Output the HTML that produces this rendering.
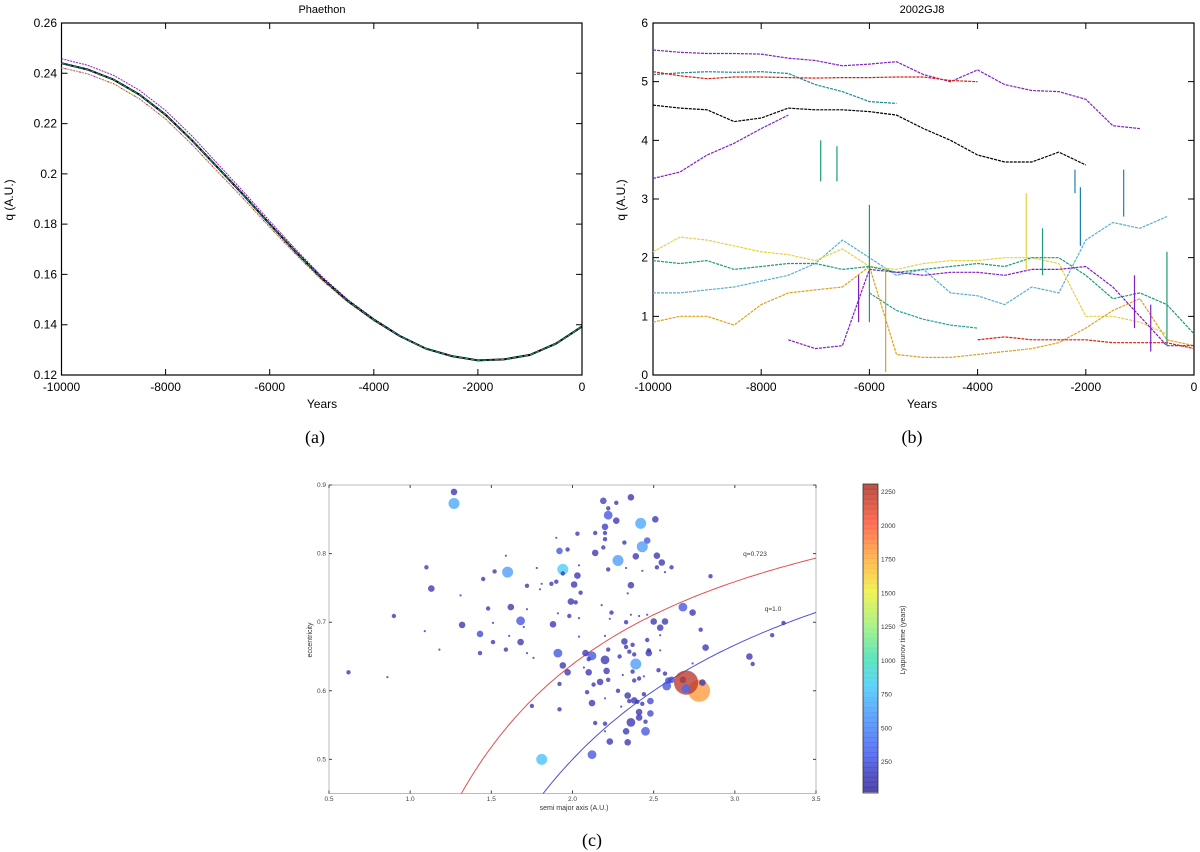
<!DOCTYPE html>
<html><head><meta charset="utf-8"><title>Phaethon and 2002GJ8 figure</title>
<style>
html,body{margin:0;padding:0;background:#fff;}
svg{display:block;font-family:"Liberation Sans",sans-serif;}
</style></head>
<body>
<svg id="fig" width="1200" height="852" viewBox="0 0 1200 852" xmlns="http://www.w3.org/2000/svg"></svg>
<script>
// ---------- Panel (a) data: Phaethon perihelion distance ----------
const yearsA = [-10000,-9500,-9000,-8500,-8000,-7500,-7000,-6500,-6000,-5500,-5000,-4500,-4000,-3500,-3000,-2500,-2000,-1500,-1000,-500,0];
const qCenter = [0.244,0.2415,0.2375,0.2315,0.2235,0.2135,0.2025,0.1915,0.180,0.169,0.1585,0.1495,0.142,0.1355,0.1305,0.1275,0.1258,0.1262,0.128,0.1325,0.1393];
const qUpper  = [0.2458,0.2432,0.2392,0.2332,0.2252,0.2152,0.2040,0.1928,0.1812,0.1700,0.1592,0.1500,0.1424,0.1357,null,null,null,null,null,null,null];
const qLower  = [0.2422,0.2398,0.2358,0.2298,0.2218,0.2118,0.2008,0.1900,0.1788,0.1680,0.1578,0.1490,0.1416,0.1353,null,null,null,null,null,null,null];
const ticksAx = [-10000,-8000,-6000,-4000,-2000,0];
const ticksAy = [0.12,0.14,0.16,0.18,0.2,0.22,0.24,0.26];
const tickLabelsAy = ["0.12","0.14","0.16","0.18","0.2","0.22","0.24","0.26"];

// ---------- Panel (b) data: 2002GJ8 clones ----------
const yearsB = [-10000,-9500,-9000,-8500,-8000,-7500,-7000,-6500,-6000,-5500,-5000,-4500,-4000,-3500,-3000,-2500,-2000,-1500,-1000,-500,0];
const qPurpleTop = [5.54,5.50,5.48,5.48,5.47,5.40,5.36,5.27,5.30,5.34,5.12,5.00,5.20,4.95,4.85,4.83,4.70,4.25,4.20,null,null];
const qRedTop    = [5.17,5.10,5.05,5.08,5.08,5.07,5.06,5.07,5.07,5.08,5.08,5.02,5.00,null,null,null,null,null,null,null,null];
const qTealTop   = [5.12,5.15,5.17,5.16,5.17,5.14,4.95,4.83,4.66,4.63,null,null,null,null,null,null,null,null,null,null,null];
const qBlack     = [4.60,4.55,4.52,4.32,4.38,4.55,4.52,4.52,4.49,4.43,4.20,4.00,3.75,3.63,3.63,3.80,3.58,null,null,null,null];
const qPurpleLow = [3.35,3.46,3.75,3.95,4.20,4.43,null,null,null,null,null,null,null,null,null,null,null,null,null,null,null];
const qGreen     = [1.95,1.90,1.95,1.80,1.85,1.90,1.90,1.80,1.85,1.75,1.80,1.85,1.90,1.85,2.00,2.00,1.70,1.30,1.40,1.20,0.70];
const qCyan      = [1.40,1.40,1.45,1.50,1.60,1.70,1.90,2.30,2.00,1.70,1.80,1.40,1.35,1.20,1.50,1.40,2.30,2.60,2.50,2.70,null];
const qTealLow   = [null,null,null,null,null,null,null,null,1.40,1.10,0.95,0.85,0.80,null,null,null,null,null,null,null,null];
const qYellow    = [2.10,2.35,2.30,2.20,2.10,2.05,1.95,2.15,1.85,1.80,1.90,1.95,1.95,2.00,2.00,1.90,1.00,1.00,0.90,0.70,null];
const qOrange    = [0.90,1.00,1.00,0.85,1.20,1.40,1.45,1.50,1.85,0.35,0.30,0.30,0.35,0.40,0.45,0.55,0.80,1.10,1.30,0.60,0.50];
const qPurpleMid = [null,null,null,null,null,0.60,0.45,0.50,1.80,1.75,1.70,1.75,1.75,1.70,1.80,1.80,1.85,1.50,1.00,0.50,0.50];
const qRedLow    = [null,null,null,null,null,null,null,null,null,null,null,null,0.60,0.65,0.60,0.60,0.60,0.55,0.55,0.55,0.45];
const spikeYears = [-6900,-6600,-6000,-5700,-3100,-2200,-1300,-2800,-1100,-800,-500,-6200,-2100];
const spikeLow   = [3.3,3.3,0.9,0.05,1.8,3.1,2.7,1.7,0.8,0.4,0.5,0.9,2.2];
const spikeHigh  = [4.0,3.9,2.9,1.8,3.1,3.5,3.5,2.5,1.7,1.2,2.1,1.7,3.2];
const spikeColor = ["#1a9a7a","#1a9a7a","#1a9a7a","#e0a020","#e8d040","#2080b0","#2080b0","#1a9a7a","#8020c0","#8020c0","#1a9a7a","#8020c0","#2080b0"];
const ticksBy = [0,1,2,3,4,5,6];

// ---------- Panel (c) data: a vs e scatter ----------
const semiMajor = [1.27,1.27,2.19,2.36,2.27,2.22,2.22,2.27,2.42,2.51,2.20,2.14,2.20,2.20,2.03,1.90,2.46,2.43,2.32,1.92,1.97,2.19,2.14,2.28,2.39,2.52,2.55,2.52,2.61,2.57,2.43,2.33,2.22,1.94,1.94,1.60,1.59,1.52,1.10,1.45,1.13,1.31,0.90,1.09,1.18,0.62,0.86,1.32,1.43,1.43,1.48,1.51,1.51,1.59,1.62,1.61,1.68,1.68,1.70,1.72,1.72,1.72,1.76,1.78,1.80,1.81,1.87,1.90,1.88,1.91,1.94,1.92,1.91,1.98,1.99,2.02,2.01,2.03,2.05,2.04,2.04,2.04,1.97,1.92,1.75,2.08,2.12,2.10,2.10,2.07,2.13,2.09,2.12,2.14,2.12,2.20,2.21,2.22,2.17,2.22,2.20,2.20,2.20,2.23,2.18,2.24,2.23,2.20,2.28,2.29,2.30,2.31,2.33,2.32,2.33,2.35,2.37,2.38,2.36,2.34,2.36,2.41,2.39,2.37,2.38,2.41,2.34,2.33,2.34,2.36,2.35,2.38,2.40,2.43,2.41,2.41,2.45,2.45,2.44,2.48,2.48,2.44,2.46,2.46,2.47,2.47,2.50,2.54,2.54,2.57,2.54,2.53,2.57,2.58,2.59,2.61,2.68,2.78,2.70,2.70,2.80,2.68,2.74,2.79,2.82,2.74,2.85,3.09,3.11,3.23,3.30,1.81];
const eccentricity = [0.890,0.873,0.877,0.882,0.874,0.866,0.856,0.848,0.844,0.850,0.839,0.830,0.830,0.821,0.829,0.823,0.819,0.810,0.816,0.804,0.806,0.809,0.801,0.790,0.796,0.797,0.787,0.780,0.780,0.773,0.775,0.779,0.777,0.777,0.771,0.773,0.797,0.774,0.780,0.763,0.749,0.739,0.709,0.687,0.660,0.627,0.620,0.696,0.683,0.655,0.720,0.699,0.671,0.660,0.722,0.680,0.702,0.671,0.693,0.753,0.719,0.655,0.648,0.779,0.748,0.756,0.756,0.759,0.697,0.655,0.637,0.610,0.713,0.709,0.730,0.729,0.755,0.768,0.743,0.783,0.706,0.679,0.627,0.573,0.578,0.655,0.651,0.646,0.627,0.634,0.609,0.598,0.582,0.553,0.507,0.645,0.629,0.660,0.613,0.616,0.589,0.552,0.541,0.526,0.725,0.714,0.705,0.680,0.600,0.650,0.577,0.623,0.700,0.672,0.664,0.657,0.667,0.653,0.754,0.742,0.711,0.709,0.639,0.628,0.615,0.618,0.593,0.541,0.525,0.554,0.585,0.586,0.584,0.581,0.561,0.569,0.541,0.555,0.595,0.567,0.585,0.621,0.711,0.674,0.659,0.655,0.701,0.692,0.681,0.701,0.659,0.630,0.625,0.607,0.615,0.616,0.616,0.600,0.612,0.603,0.612,0.722,0.714,0.689,0.663,0.640,0.767,0.650,0.639,0.681,0.699,0.500];
const lyapunov = [100,650,150,100,100,100,250,100,650,100,150,100,100,100,100,100,250,600,100,250,100,100,100,600,100,100,100,100,100,100,100,100,100,800,100,600,100,100,100,100,100,100,100,100,100,100,100,100,200,100,100,100,100,100,100,100,250,100,100,100,100,100,100,100,100,100,100,100,100,250,100,100,100,100,100,100,100,100,100,100,100,100,100,100,100,100,250,100,100,100,100,100,100,100,250,100,100,100,100,100,100,100,100,100,100,100,100,100,100,100,100,100,100,100,100,100,100,100,100,100,100,100,600,100,100,100,100,100,100,100,100,100,100,100,100,100,250,100,100,200,200,100,100,100,100,100,100,100,100,100,100,100,100,250,200,200,100,1800,2250,350,100,250,100,100,100,100,100,100,100,100,100,750];
const markerSize = [3,5,3,3,2,2,4,3,5,3,3,2,2,2,2,1,3,5,2,3,2,2,3,5,3,3,3,2,2,1,1,1,2,5,2,5,1,2,2,2,3,1,2,1,1,2,1,3,3,2,2,1,2,2,3,1,4,3,1,2,1,1,1,1,1,1,2,2,3,4,3,2,1,2,3,2,3,3,2,1,1,1,3,2,2,3,4,2,3,1,2,2,3,2,4,4,3,2,3,2,1,2,1,3,1,2,1,1,2,2,1,1,2,3,2,2,2,2,3,1,1,1,5,2,2,2,3,3,3,4,2,3,2,2,3,3,4,2,2,3,3,1,1,2,2,3,3,3,1,3,1,2,2,4,3,3,3,10,11,4,3,4,3,2,3,1,2,3,2,2,2,5];
const ticksCx = [0.5,1.0,1.5,2.0,2.5,3.0,3.5];
const ticksCy = [0.5,0.6,0.7,0.8,0.9];
const cbarTicks = [250,500,750,1000,1250,1500,1750,2000,2250];
const qCurves = [0.723,1.0];

// ---------- helpers ----------
const NS = "http://www.w3.org/2000/svg";
const svg = document.getElementById("fig");
function el(tag, parent){ const e=document.createElementNS(NS,tag); (parent||svg).appendChild(e); return e; }
function attrs(e,o){ for(const k in o) e.setAttribute(k,o[k]); return e; }
function txt(parent,x,y,s,size,anchor,fill,rot){
  const t=el("text",parent); attrs(t,{x:x,y:y,"font-size":size,"text-anchor":anchor||"middle",fill:fill||"#000"});
  if(rot) t.setAttribute("transform","rotate(-90 "+x+" "+y+")");
  t.textContent=s; return t;
}
function polyPath(xs,ys,fx,fy){
  let d="",pen=false;
  for(let i=0;i<xs.length;i++){
    if(ys[i]===null){pen=false;continue;}
    d+=(pen?"L":"M")+fx(xs[i]).toFixed(1)+" "+fy(ys[i]).toFixed(1);
    pen=true;
  }
  return d;
}

// ---------- Panel (a) ----------
const xa=v=>61.5+(v+10000)/10000*520.5;
const ya=v=>23+(0.26-v)/0.14*352;
const gA=el("g");


const frA=el("rect",gA); attrs(frA,{x:61.5,y:23,width:520.5,height:352,fill:"none",stroke:"#000","stroke-width":1.2});


ticksAx.forEach(v=>{
  const l=el("path",gA); attrs(l,{d:`M${xa(v)} 375v-6M${xa(v)} 23v6`,stroke:"#000"});
  
  
  const t=txt(gA,xa(v),391,String(v),12);
  
  
});
ticksAy.forEach((v,i)=>{
  const l=el("path",gA); attrs(l,{d:`M61.5 ${ya(v)}h6M582 ${ya(v)}h-6`,stroke:"#000"});
  
  
  const t=txt(gA,57,ya(v)+4,tickLabelsAy[i],12,"end");
  
  
});
const seriesA=[[qUpper,"#9020c0",1,"2 1"],[qLower,"#9020c0",1,"2 1"],[qLower,"#e8c030",0.8,"3 2"],[qCenter,"#000",2,""],[qCenter,"#1a9a9a",1,"4 2"],[qCenter,"#3aa040",0.8,"1 3"]];
seriesA.forEach((s,i)=>{
  const p=el("path",gA); attrs(p,{d:polyPath(yearsA,s[0],xa,ya),fill:"none",stroke:s[1],"stroke-width":s[2],"stroke-dasharray":s[3]});
  
  
});
let t0=txt(gA,322,13,"Phaethon",11);


t0=txt(gA,322,408,"Years",12);


t0=txt(gA,13,200,"q (A.U.)",12,"middle","#000",true);



// ---------- Panel (b) ----------
const xb=v=>653+(v+10000)/10000*541;
const yb=v=>375-v/6*352;
const gB=el("g");


const frB=el("rect",gB); attrs(frB,{x:653,y:23,width:541,height:352,fill:"none",stroke:"#000","stroke-width":1.2});


ticksAx.forEach(v=>{
  const l=el("path",gB); attrs(l,{d:`M${xb(v)} 375v-6M${xb(v)} 23v6`,stroke:"#000"});
  
  
  const t=txt(gB,xb(v),391,String(v),12);
  
  
});
ticksBy.forEach(v=>{
  const l=el("path",gB); attrs(l,{d:`M653 ${yb(v)}h6M1194 ${yb(v)}h-6`,stroke:"#000"});
  
  
  const t=txt(gB,648,yb(v)+4,String(v),12,"end");
  
  
});
const seriesB=[[qPurpleTop,"#8020c0"],[qTealTop,"#1a8a9a"],[qRedTop,"#d02010"],[qBlack,"#000"],[qPurpleLow,"#8020c0"],[qCyan,"#5ab0d0"],[qYellow,"#e8d040"],[qGreen,"#1a9a7a"],[qTealLow,"#20a0a0"],[qOrange,"#e0a020"],[qPurpleMid,"#8020c0"],[qRedLow,"#d02010"]];
seriesB.forEach(s=>{
  const p=el("path",gB); attrs(p,{d:polyPath(yearsB,s[0],xb,yb),fill:"none",stroke:s[1],"stroke-width":1.2,"stroke-dasharray":"3 1"});
  
  
});
spikeYears.forEach((v,i)=>{
  const p=el("path",gB); attrs(p,{d:`M${xb(v)} ${yb(spikeLow[i])}V${yb(spikeHigh[i])}`,stroke:spikeColor[i],"stroke-width":1.2});
  
  
});
t0=txt(gB,922,13,"2002GJ8",11);


t0=txt(gB,922,408,"Years",12);


t0=txt(gB,625,200,"q (A.U.)",12,"middle","#000",true);



// ---------- Panel (c) ----------
const xc=v=>329+(v-0.5)/3*487;
const yc=v=>485+(0.9-v)/0.1*68.6;
const gC=el("g");


const frC=el("rect",gC); attrs(frC,{x:329,y:485,width:487,height:308.5,fill:"none",stroke:"#bbb","stroke-width":1});


ticksCx.forEach(v=>{
  const l=el("path",gC); attrs(l,{d:`M${xc(v)} 793.5v-3M${xc(v)} 485v3`,stroke:"#444"});
  
  
  const t=txt(gC,xc(v),801,v.toFixed(1),6.5,"middle","#444");
  
  
});
ticksCy.forEach(v=>{
  const l=el("path",gC); attrs(l,{d:`M329 ${yc(v)}h3M816 ${yc(v)}h-3`,stroke:"#444"});
  
  
  const t=txt(gC,326,yc(v)+2,v.toFixed(1),6.5,"end","#444");
  
  
});
// q curves e = 1 - q/a, starting at bottom of axis (e = 0.45)
const qColors=["#e05050","#5050d0"];
qCurves.forEach((q,ci)=>{
  let d="";
  const a0=q/0.55;
  for(let k=0;k<=80;k++){
    const a=a0+(3.5-a0)*k/80;
    d+=(k?"L":"M")+xc(a).toFixed(1)+" "+yc(1-q/a).toFixed(1);
  }
  const p=el("path",gC); attrs(p,{d:d,fill:"none",stroke:qColors[ci],"stroke-width":1});
  
  
});
t0=txt(gC,755,556,"q=0.723",6.5,"middle","#333");


t0=txt(gC,773,611,"q=1.0",6.5,"middle","#333");



function cmap(v){
  const stops=[[0,[50,40,150]],[150,[60,60,190]],[300,[70,95,240]],[600,[75,155,250]],[800,[70,205,250]],[1000,[70,225,180]],[1250,[160,240,120]],[1500,[240,240,60]],[1750,[255,170,60]],[2000,[255,90,60]],[2300,[170,50,40]]];
  for(let i=1;i<stops.length;i++){
    if(v<=stops[i][0]){
      const f=(v-stops[i-1][0])/(stops[i][0]-stops[i-1][0]);
      const c=stops[i-1][1].map((x,j)=>Math.round(x+(stops[i][1][j]-x)*f));
      return `rgb(${c[0]},${c[1]},${c[2]})`;
    }
  }
  return "rgb(170,50,40)";
}
semiMajor.forEach((a,i)=>{
  const c=el("circle",gC);
  attrs(c,{cx:xc(a).toFixed(1),cy:yc(eccentricity[i]).toFixed(1),r:(markerSize[i]*1.1).toFixed(1),fill:cmap(lyapunov[i]),"fill-opacity":0.78});
  
  
});
t0=txt(gC,574,810,"semi major axis (A.U.)",7,"middle","#333");


t0=txt(gC,312,640,"eccentricity",7,"middle","#333",true);



// colorbar
const cb=el("g",gC);


const cbY=v=>762-(v-250)/2000*270;
for(let k=0;k<62;k++){
  const v0=30+k*(2310-30)/62;
  const r=el("rect",cb); attrs(r,{x:863,y:cbY(v0+(2280/62)).toFixed(2),width:15,height:(270/2000*2280/62+0.6).toFixed(2),fill:cmap(v0),"fill-opacity":0.85});
  
  
}
const cbf=el("rect",cb); attrs(cbf,{x:863,y:484,width:15,height:309,fill:"none",stroke:"#333","stroke-width":0.8});


cbarTicks.forEach(v=>{
  const t=txt(cb,881,cbY(v)+2,String(v),6.5,"start","#333");
  
  
});
t0=txt(cb,905,640,"Lyapunov time (years)",7,"middle","#333",true);



// panel letters
[["(a)",315,443],["(b)",912,443],["(c)",592,846]].forEach(p=>{
  const t=el("text"); attrs(t,{x:p[1],y:p[2],"font-size":18,"text-anchor":"middle","font-family":"Liberation Serif, serif"});
  t.textContent=p[0];
  
  
});
</script>
</body></html>
